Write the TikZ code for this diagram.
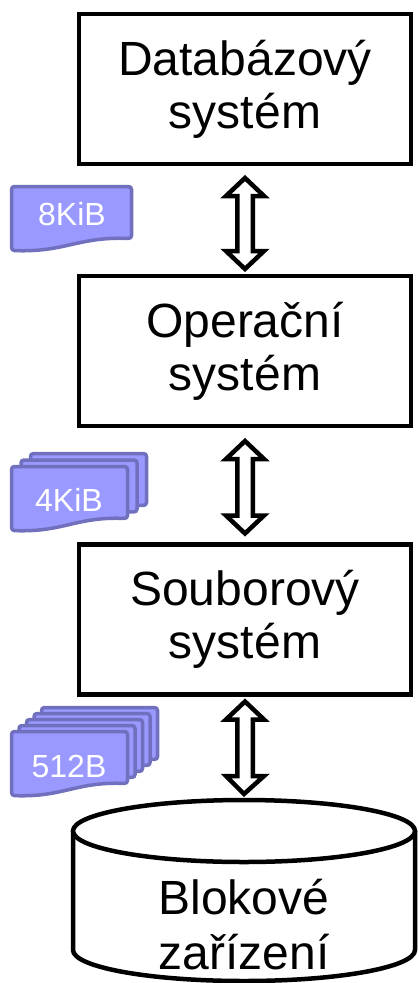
\documentclass[tikz,border=0pt]{standalone}
\usepackage{fontspec}
\setmainfont{Liberation Sans}
\usetikzlibrary{calc}
\definecolor{pagefill}{RGB}{153,153,255}
\definecolor{pageline}{RGB}{112,112,190}
\def\docpage(#1,#2)(#3){\draw[page] (#1,#2) -- ({#1+#3},#2) -- ({#1+#3},{#2+52}) .. controls ({#1+0.55*#3},{#2+50}) and ({#1+0.45*#3},{#2+66}) .. (#1,{#2+64}) -- cycle;}
\tikzset{
  page/.style={fill=pagefill, draw=pageline, line width=3.5pt, rounded corners=3pt},
  pagelabel/.style={text=white, inner sep=0pt, font=\fontsize{32}{38}\selectfont},
  layer/.style={draw, line width=4.5pt, outer sep=0pt, minimum width=332pt, minimum height=150pt, align=center, font=\fontsize{48}{53}\selectfont},
  blockarrow/.style={draw, fill=white, line width=4.5pt, line join=miter,
    to path={let \p1=(\tikztostart), \p2=(\tikztotarget) in
      (\p1) -- ({\x1+19pt},{\y1-18pt}) -- ({\x1+7.75pt},{\y1-18pt}) -- ({\x1+7.75pt},{\y2+18pt}) -- ({\x1+19pt},{\y2+18pt})
      -- (\p2) -- ({\x1-19pt},{\y2+18pt}) -- ({\x1-7.75pt},{\y2+18pt}) -- ({\x1-7.75pt},{\y1-18pt}) -- ({\x1-19pt},{\y1-18pt}) -- cycle}}
}
\begin{document}
\begin{tikzpicture}[x=1pt, y=-1pt]
			%%%%% START %%%%%
			\useasboundingbox (0,0) rectangle (419,983);
			
			\node[layer] (db) at (245,89) {Databázový\\systém};
			\node[layer] (os) at (245,351) {Operační\\systém};
			\node[layer] (fs) at (245,619.5) {Souborový\\systém};
			
			% block device
			\coordinate (devtop) at (244,800);
			\draw[line width=4.5pt, fill=white] (73,831) -- (73,950) arc[start angle=180, end angle=0, x radius=171, y radius=31] -- (415,831);
			\draw[line width=4.5pt, fill=white] (244,831) ellipse [x radius=171, y radius=31];
			\node[align=center, font=\fontsize{48}{55}\selectfont] (dev) at (244,925) {Blokové\\zařízení};
			
			\draw[blockarrow] ($(db.south)+(0,14)$) to ($(os.north)-(0,7)$);
			\draw[blockarrow] ($(os.south)+(0,15)$) to ($(fs.north)-(0,11)$);
			\draw[blockarrow] ($(fs.south)+(0,7)$) to ($(devtop)-(0,6)$);
			
			% pages
			\docpage(11.5,186.5)(120);
			\node[pagelabel] (p8) at (72,214) {8KiB};
			
			\docpage(30.5,453.5)(116);
			\docpage(21,460)(116);
			\docpage(11.5,466.5)(116);
			\node[pagelabel] (p4) at (69,500) {4KiB};
			
			\docpage(41.5,707.5)(116);
			\docpage(34,713.5)(116);
			\docpage(26.5,719.5)(116);
			\docpage(19,725.5)(116);
			\docpage(11.5,731.5)(116);
			\node[pagelabel] (p512) at (69,766) {512B};
			
			%%%%% END %%%%%
\end{tikzpicture}
\end{document}
